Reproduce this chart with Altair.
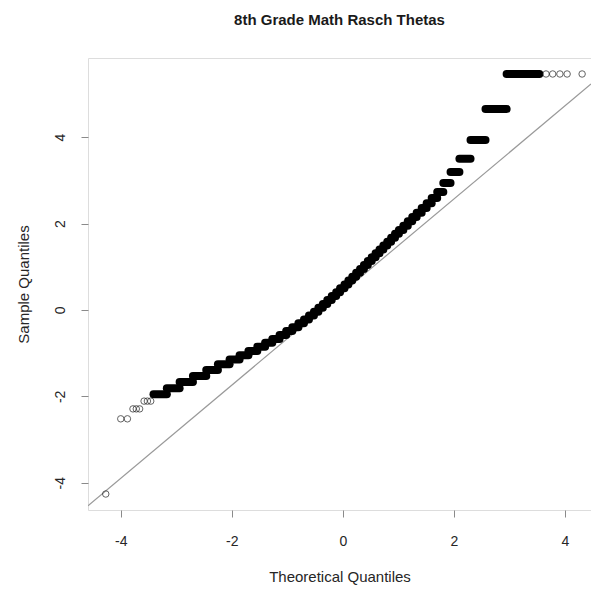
import altair as alt
import pandas as pd

# ---- data (theoretical quantile x, sample quantile y) ----
# isolated points (drawn as open circles)
tail_x = [-4.27, -4.00, -3.88, -3.78, -3.72, -3.66, -3.58, -3.52, -3.46,
          3.66, 3.78, 3.91, 4.04, 4.31]
tail_y = [-4.26, -2.52, -2.52, -2.29, -2.29, -2.29, -2.11, -2.11, -2.11,
          5.46, 5.46, 5.46, 5.46, 5.46]

# dense theta levels: each level covers a run of theoretical quantiles
level_y = [-1.95, -1.81, -1.67, -1.53, -1.39, -1.26, -1.15, -1.05, -0.95, -0.85,
           -0.76, -0.67, -0.58, -0.49, -0.40, -0.31, -0.22, -0.13, -0.04, 0.05,
           0.14, 0.23, 0.32, 0.41, 0.50, 0.59, 0.68, 0.77, 0.86, 0.95,
           1.04, 1.13, 1.22, 1.31, 1.40, 1.49, 1.58, 1.67, 1.76, 1.85,
           1.95, 2.05, 2.15, 2.25, 2.36, 2.47, 2.59, 2.73, 2.94, 3.19,
           3.50, 3.93, 4.65, 5.46]
level_x0 = [-3.41, -3.17, -2.94, -2.70, -2.46, -2.25, -2.04, -1.86, -1.70, -1.54,
            -1.40, -1.27, -1.14, -1.02, -0.91, -0.80, -0.70, -0.61, -0.52, -0.44,
            -0.36, -0.28, -0.20, -0.12, -0.05, 0.03, 0.10, 0.17, 0.24, 0.31,
            0.38, 0.45, 0.52, 0.59, 0.66, 0.73, 0.80, 0.87, 0.94, 1.01,
            1.09, 1.17, 1.25, 1.33, 1.42, 1.51, 1.60, 1.70, 1.81, 1.94,
            2.10, 2.30, 2.57, 2.95]
level_x1 = [-3.17, -2.94, -2.70, -2.46, -2.25, -2.04, -1.86, -1.70, -1.54, -1.40,
            -1.27, -1.14, -1.02, -0.91, -0.80, -0.70, -0.61, -0.52, -0.44, -0.36,
            -0.28, -0.20, -0.12, -0.05, 0.03, 0.10, 0.17, 0.24, 0.31, 0.38,
            0.45, 0.52, 0.59, 0.66, 0.73, 0.80, 0.87, 0.94, 1.01, 1.09,
            1.17, 1.25, 1.33, 1.42, 1.51, 1.60, 1.70, 1.81, 1.94, 2.10,
            2.30, 2.57, 2.95, 3.54]

# reference (qq) line
qq_intercept = 0.413
qq_slope = 1.077

x_ticks = [-4, -2, 0, 2, 4]
y_ticks = [-4, -2, 0, 2, 4]
x_domain = [-4.59, 4.47]
y_domain = [-4.63, 5.83]

FONT = "Liberation Sans"
TXT = "#262626"
FRAME = "#8a8a8a"

tails = pd.DataFrame({"x": tail_x, "y": tail_y})
levels = pd.DataFrame({"y": level_y, "x0": level_x0, "x1": level_x1})
qq = pd.DataFrame({
    "x0": [x_domain[0]], "x1": [x_domain[1]],
    "y0": [qq_intercept + qq_slope * x_domain[0]],
    "y1": [qq_intercept + qq_slope * x_domain[1]],
})

xs = alt.Scale(domain=x_domain, nice=False, zero=False)
ys = alt.Scale(domain=y_domain, nice=False, zero=False)

x_axis = alt.Axis(values=x_ticks, labelExpr="'' + datum.value", title="Theoretical Quantiles",
                  grid=False, domain=False, tickColor=FRAME, tickSize=7, tickWidth=1,
                  labelFont=FONT, labelFontSize=14, labelColor=TXT, labelPadding=17,
                  titleFont=FONT, titleFontSize=15, titleFontWeight="normal",
                  titleColor=TXT, titlePadding=21)
y_axis = alt.Axis(values=y_ticks, labelExpr="'' + datum.value", title="Sample Quantiles",
                  grid=False, domain=False, tickColor=FRAME, tickSize=7, tickWidth=1,
                  labelFont=FONT, labelFontSize=14, labelColor=TXT, labelAngle=-90,
                  labelAlign="center", labelBaseline="bottom", labelPadding=14,
                  titleFont=FONT, titleFontSize=15, titleFontWeight="normal",
                  titleColor=TXT, titlePadding=22)

line = alt.Chart(qq).mark_rule(color="#9a9a9a", strokeWidth=1.2, clip=True).encode(
    x=alt.X("x0:Q", scale=xs, axis=x_axis),
    x2="x1:Q",
    y=alt.Y("y0:Q", scale=ys, axis=y_axis),
    y2="y1:Q",
)

bars = alt.Chart(levels).mark_rule(color="black", strokeWidth=8, strokeCap="round").encode(
    x=alt.X("x0:Q", scale=xs, axis=x_axis),
    x2="x1:Q",
    y=alt.Y("y:Q", scale=ys, axis=y_axis),
)

pts = alt.Chart(tails).mark_point(shape="circle", filled=False, size=42, stroke="#222222",
                                  strokeWidth=1).encode(
    x=alt.X("x:Q", scale=xs, axis=x_axis),
    y=alt.Y("y:Q", scale=ys, axis=y_axis),
)

chart = alt.layer(line, bars, pts).properties(
    width=503,
    height=452,
    autosize=alt.AutoSizeParams(type="none"),
    padding={"left": 88, "top": 58, "right": 0, "bottom": 80},
    title=alt.TitleParams(text="8th Grade Math Rasch Thetas", font=FONT, fontSize=15,
                          fontWeight="bold", color="#1a1a1a", anchor="middle", offset=30),
).configure_view(stroke=FRAME, strokeWidth=1.5).configure(background="white")

chart.save("out.html", embed_options={"renderer": "svg", "actions": False})
